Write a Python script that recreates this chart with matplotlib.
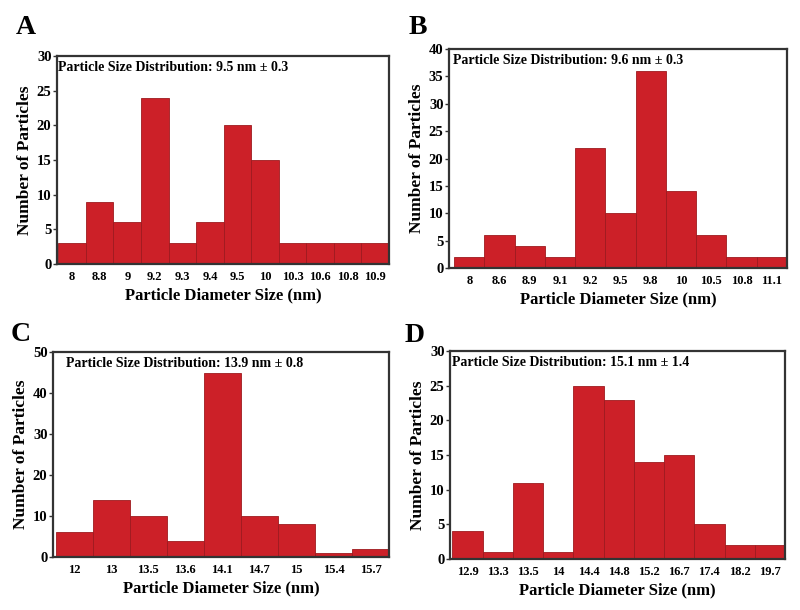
import matplotlib
matplotlib.use("Agg")
import matplotlib.pyplot as plt
import numpy as np

plt.rcParams['font.family'] = ['Liberation Serif', 'DejaVu Serif']
plt.rcParams['font.weight'] = 'bold'

# ---- data ----
labels_A = ["8", "8.8", "9", "9.2", "9.3", "9.4", "9.5", "10", "10.3", "10.6", "10.8", "10.9"]
counts_A = [3, 9, 6, 24, 3, 6, 20, 15, 3, 3, 3, 3]
labels_B = ["8", "8.6", "8.9", "9.1", "9.2", "9.5", "9.8", "10", "10.5", "10.8", "11.1"]
counts_B = [2, 6, 4, 2, 22, 10, 36, 14, 6, 2, 2]
labels_C = ["12", "13", "13.5", "13.6", "14.1", "14.7", "15", "15.4", "15.7"]
counts_C = [6, 14, 10, 4, 45, 10, 8, 1, 2]
labels_D = ["12.9", "13.3", "13.5", "14", "14.4", "14.8", "15.2", "16.7", "17.4", "18.2", "19.7"]
counts_D = [4, 1, 11, 1, 25, 23, 14, 15, 5, 2, 2]

notes = ["Particle Size Distribution: 9.5 nm ± 0.3",
         "Particle Size Distribution: 9.6 nm ± 0.3",
         "Particle Size Distribution: 13.9 nm ± 0.8",
         "Particle Size Distribution: 15.1 nm ± 1.4"]
letters = ["A", "B", "C", "D"]
ymaxes = [30, 40, 50, 30]
ysteps = [5, 5, 10, 5]

W, H = 800, 610
fig = plt.figure(figsize=(8, 6.1), dpi=100)

# axes boxes in pixels: left, right, top, bottom
boxes = [(57, 389, 56, 264), (449, 787, 49, 268), (53, 389, 352, 557), (450, 785, 351, 559)]
left_gap = [0.05, 0.17, 0.07, 0.08]
note_x = [0.003, 0.012, 0.04, 0.006]
letter_pos = [(16, 34), (409, 34), (11, 341), (405, 342)]

datasets = [(labels_A, counts_A), (labels_B, counts_B), (labels_C, counts_C), (labels_D, counts_D)]

bar_color = "#cc2028"
edge_color = "#9e1a1f"
frame_color = "#333333"

for i, ((labs, cnts), (l, r, t, b)) in enumerate(zip(datasets, boxes)):
    ax = fig.add_axes([l / W, 1 - b / H, (r - l) / W, (b - t) / H])
    x = np.arange(len(labs))
    ax.bar(x, cnts, width=1.0, color=bar_color, edgecolor=edge_color, linewidth=0.6)
    ax.set_xlim(-0.5 - left_gap[i], len(labs) - 0.5)
    ax.set_ylim(0, ymaxes[i])
    ax.set_xticks(x)
    ax.set_xticklabels(labs, fontsize=9, fontweight='bold')
    ax.set_yticks(np.arange(0, ymaxes[i] + 1, ysteps[i]))
    ax.tick_params(axis='x', length=0, pad=5)
    ax.tick_params(axis='y', length=3, width=1, direction='out', labelsize=10.5, pad=1, color=frame_color)
    for lab in ax.get_yticklabels():
        lab.set_fontweight('bold')
    for s in ax.spines.values():
        s.set_color(frame_color)
        s.set_linewidth(1.6)
    ax.set_xlabel("Particle Diameter Size (nm)", fontsize=12, fontweight='bold', labelpad=3)
    ax.set_ylabel("Number of Particles", fontsize=12.5, fontweight='bold', labelpad=3)
    ax.text(note_x[i], 0.975, notes[i], transform=ax.transAxes, ha='left', va='top',
            fontsize=10, fontweight='bold')
    lx, ly = letter_pos[i]
    fig.text(lx / W, 1 - ly / H, letters[i], fontsize=20, fontweight='bold', ha='left', va='baseline')

fig.savefig("out.png", dpi=100)
